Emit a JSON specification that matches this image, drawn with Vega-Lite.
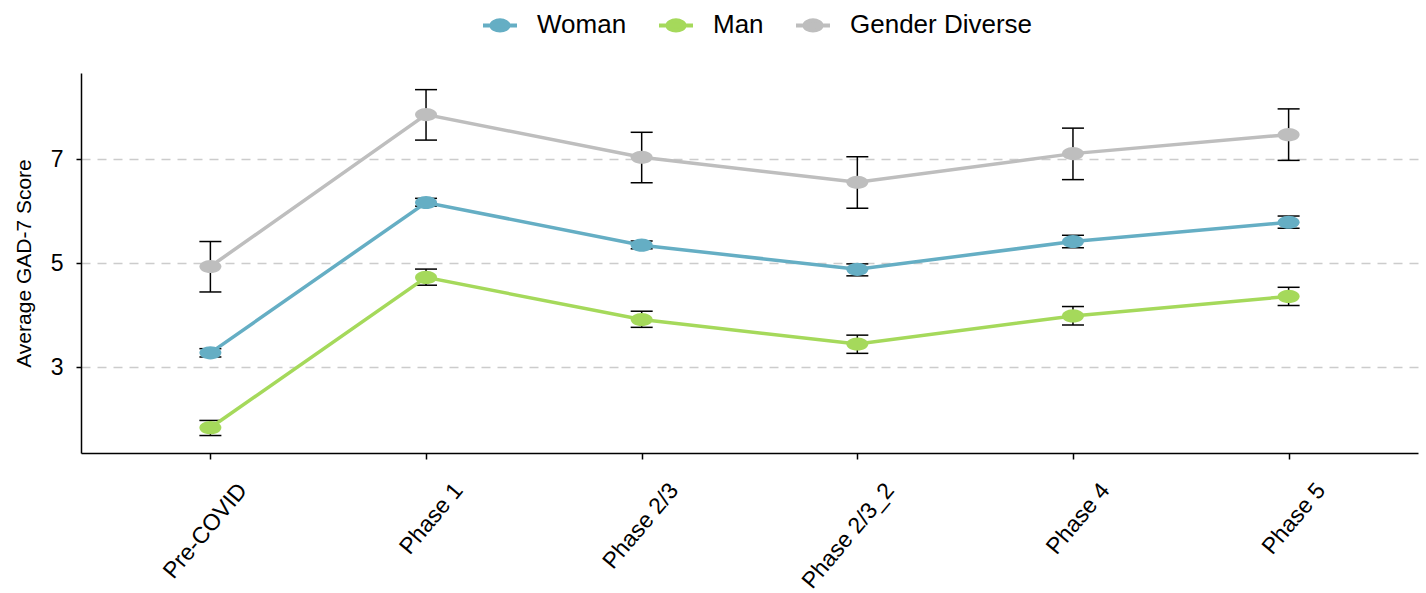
{
  "$schema": "https://vega.github.io/schema/vega-lite/v6.json",
  "width": 1337,
  "height": 380,
  "autosize": {"type": "none"},
  "padding": {"left": 81, "top": 73, "right": 8, "bottom": 140},
  "background": "white",
  "config": {
    "view": {"stroke": null},
    "font": "Liberation Sans"
  },
  "data": {
    "values": [
      {"phase": "Pre-COVID", "gender": "Woman", "mean": 3.28, "lo": 3.2, "hi": 3.36},
      {"phase": "Pre-COVID", "gender": "Man", "mean": 1.84, "lo": 1.69, "hi": 1.98},
      {"phase": "Pre-COVID", "gender": "Gender Diverse", "mean": 4.94, "lo": 4.45, "hi": 5.42},
      {"phase": "Phase 1", "gender": "Woman", "mean": 6.17, "lo": 6.1, "hi": 6.25},
      {"phase": "Phase 1", "gender": "Man", "mean": 4.73, "lo": 4.58, "hi": 4.89},
      {"phase": "Phase 1", "gender": "Gender Diverse", "mean": 7.86, "lo": 7.37, "hi": 8.34},
      {"phase": "Phase 2/3", "gender": "Woman", "mean": 5.35, "lo": 5.28, "hi": 5.43},
      {"phase": "Phase 2/3", "gender": "Man", "mean": 3.92, "lo": 3.77, "hi": 4.08},
      {"phase": "Phase 2/3", "gender": "Gender Diverse", "mean": 7.04, "lo": 6.55, "hi": 7.52},
      {"phase": "Phase 2/3_2", "gender": "Woman", "mean": 4.885, "lo": 4.76, "hi": 4.99},
      {"phase": "Phase 2/3_2", "gender": "Man", "mean": 3.45, "lo": 3.27, "hi": 3.62},
      {"phase": "Phase 2/3_2", "gender": "Gender Diverse", "mean": 6.56, "lo": 6.06, "hi": 7.05},
      {"phase": "Phase 4", "gender": "Woman", "mean": 5.42, "lo": 5.3, "hi": 5.54},
      {"phase": "Phase 4", "gender": "Man", "mean": 3.99, "lo": 3.815, "hi": 4.17},
      {"phase": "Phase 4", "gender": "Gender Diverse", "mean": 7.11, "lo": 6.61, "hi": 7.6},
      {"phase": "Phase 5", "gender": "Woman", "mean": 5.79, "lo": 5.675, "hi": 5.91},
      {"phase": "Phase 5", "gender": "Man", "mean": 4.365, "lo": 4.19, "hi": 4.54},
      {"phase": "Phase 5", "gender": "Gender Diverse", "mean": 7.475, "lo": 6.98, "hi": 7.97}
    ]
  },
  "encoding": {
    "x": {
      "field": "phase",
      "type": "ordinal",
      "sort": ["Pre-COVID", "Phase 1", "Phase 2/3", "Phase 2/3_2", "Phase 4", "Phase 5"],
      "scale": {"type": "point", "padding": 0.6},
      "axis": {
        "title": null,
        "grid": false,
        "domainColor": "#000000",
        "domainWidth": 1.5,
        "tickColor": "#000000",
        "tickWidth": 1.5,
        "tickSize": 6,
        "labelFontSize": 23,
        "labelColor": "#000000",
        "labelAngle": -50,
        "labelAlign": "right",
        "labelBaseline": "middle",
        "labelOffset": 32,
        "labelPadding": 27,
        "labelLimit": 300
      }
    },
    "y": {
      "field": "mean",
      "type": "quantitative",
      "title": "Average GAD-7 Score",
      "scale": {"domain": [1.354, 8.66], "nice": false, "zero": false},
      "axis": {
        "values": [3, 5, 7],
        "grid": true,
        "gridDash": [9, 7],
        "gridColor": "#cccccc",
        "gridWidth": 1.5,
        "domainColor": "#000000",
        "domainWidth": 1.5,
        "tickColor": "#000000",
        "tickWidth": 1.5,
        "tickSize": 5,
        "labelFontSize": 23,
        "labelColor": "#000000",
        "labelPadding": 13,
        "titleFontSize": 21,
        "titleFontWeight": "normal",
        "titleColor": "#000000",
        "titlePadding": 16
      }
    }
  },
  "layer": [
    {
      "mark": {"type": "rule", "color": "#000000", "strokeWidth": 1.5},
      "encoding": {
        "y": {"field": "lo", "type": "quantitative"},
        "y2": {"field": "hi"}
      }
    },
    {
      "mark": {"type": "tick", "color": "#000000", "size": 22, "thickness": 1.5, "opacity": 1},
      "encoding": {
        "y": {"field": "lo", "type": "quantitative"}
      }
    },
    {
      "mark": {"type": "tick", "color": "#000000", "size": 22, "thickness": 1.5, "opacity": 1},
      "encoding": {
        "y": {"field": "hi", "type": "quantitative"}
      }
    },
    {
      "mark": {"type": "line", "strokeWidth": 3.5},
      "encoding": {
        "color": {"field": "gender", "type": "nominal",
          "scale": {"domain": ["Woman", "Man", "Gender Diverse"], "range": ["#65AEC4", "#A5D95B", "#BEBEBE"]},
          "legend": {
            "orient": "none",
            "direction": "horizontal",
            "legendX": 400,
            "legendY": -67,
            "title": null,
            "symbolType": "M-1,0L1,0M-0.5,0A0.5,0.3 0 1,0 0.5,0A0.5,0.3 0 1,0 -0.5,0",
            "symbolSize": 1156,
            "symbolStrokeWidth": 4,
            "labelFontSize": 26,
            "labelColor": "#000000",
            "labelOffset": 18,
            "labelLimit": 400,
            "columnPadding": 24,
            "encode": {
              "symbols": {"update": {"fill": {"scale": "color", "field": "value"}, "stroke": {"scale": "color", "field": "value"}, "opacity": {"value": 1}}}
            }
          }
        }
      }
    },
    {
      "mark": {"type": "point", "filled": true, "opacity": 1, "size": 484, "shape": "M-1,0A1,0.6 0 1,0 1,0A1,0.6 0 1,0 -1,0"},
      "encoding": {
        "color": {"field": "gender", "type": "nominal",
          "scale": {"domain": ["Woman", "Man", "Gender Diverse"], "range": ["#65AEC4", "#A5D95B", "#BEBEBE"]},
          "legend": {
            "orient": "none",
            "direction": "horizontal",
            "legendX": 400,
            "legendY": -67,
            "title": null,
            "symbolType": "M-1,0L1,0M-0.5,0A0.5,0.3 0 1,0 0.5,0A0.5,0.3 0 1,0 -0.5,0",
            "symbolSize": 1156,
            "symbolStrokeWidth": 4,
            "labelFontSize": 26,
            "labelColor": "#000000",
            "labelOffset": 18,
            "labelLimit": 400,
            "columnPadding": 24,
            "encode": {
              "symbols": {"update": {"fill": {"scale": "color", "field": "value"}, "stroke": {"scale": "color", "field": "value"}, "opacity": {"value": 1}}}
            }
          }
        }
      }
    }
  ]
}
